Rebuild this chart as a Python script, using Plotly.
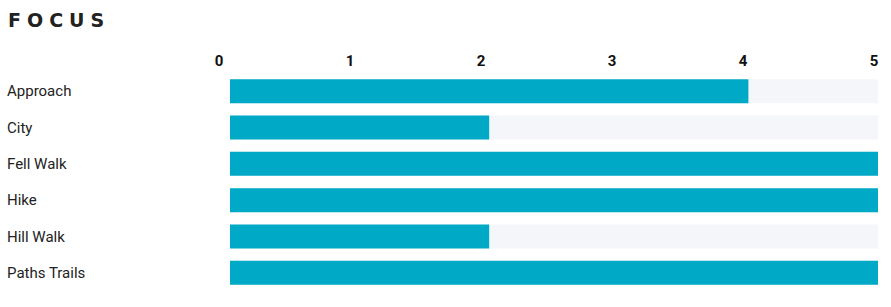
import plotly.graph_objects as go

categories = ["Approach", "City", "Fell Walk", "Hike", "Hill Walk", "Paths Trails"]
values = [4, 2, 5, 5, 2, 5]
track = [5, 5, 5, 5, 5, 5]
tick_vals = [0, 1, 2, 3, 4, 5]
tick_text = ["0", "1", "2", "3", "4", "5"]

W, H = 891, 307
ml, mr, mt, mb = 6, 13, 73, 16
pw = W - ml - mr

fig = go.Figure()
fig.add_trace(go.Bar(y=categories, x=track, orientation="h", marker_color="#f5f6fa",
                     marker_line_width=0, hoverinfo="skip", showlegend=False))
fig.add_trace(go.Bar(y=categories, x=values, orientation="h", marker_color="#00aac6",
                     marker_line_width=0, showlegend=False))
# carrier for the top tick-label axis (draws nothing)
fig.add_trace(go.Scatter(x=[], y=[], xaxis="x2", yaxis="y", mode="markers",
                         showlegend=False, hoverinfo="skip"))

fig.update_layout(
    width=W, height=H,
    margin=dict(l=ml, r=mr, t=mt, b=mb, autoexpand=False),
    paper_bgcolor="white", plot_bgcolor="rgba(0,0,0,0)",
    barmode="overlay", bargap=0.34,
    title=dict(text='<span style="letter-spacing:6px">FOCUS</span>',
               x=8 / W, xanchor="left", xref="container",
               y=1 - 20 / H, yanchor="middle", yref="container",
               font=dict(family="DejaVu Sans", size=19, color="#222", weight="bold")),
    xaxis=dict(domain=[(230 - ml) / pw, 1], range=[0, 5], showticklabels=False,
               automargin=False,
               showgrid=False, zeroline=False, showline=False, fixedrange=True),
    xaxis2=dict(domain=[(219 - ml) / pw, (874 - ml) / pw], range=[0, 5],
                tickvals=tick_vals, ticktext=tick_text, side="top",
                anchor="free", position=1, automargin=False, ticklabelstandoff=4,
                showgrid=False, zeroline=False, showline=False, ticks="",
                tickfont=dict(family="Roboto", size=15, color="#111", weight="bold")),
    yaxis=dict(anchor="free", position=0, side="right", autorange="reversed",
               automargin=False,
               categoryorder="array", categoryarray=categories,
               showgrid=False, zeroline=False, showline=False, ticks="",
               tickfont=dict(family="Roboto", size=15, color="#222")),
)

fig.write_html("out.html")
